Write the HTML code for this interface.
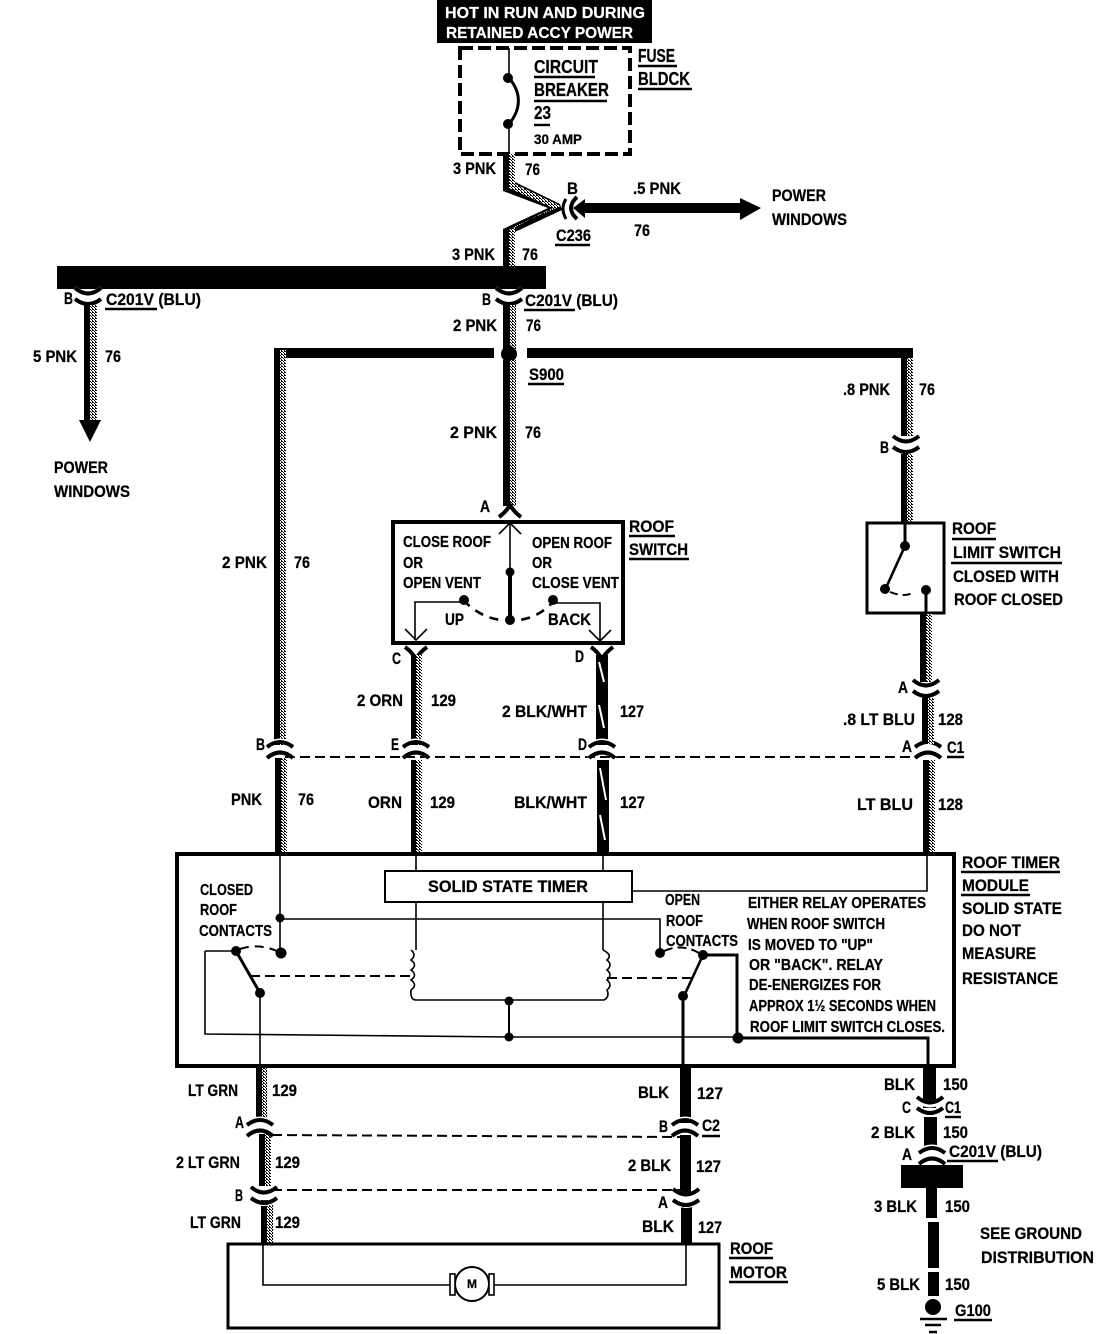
<!DOCTYPE html>
<html><head><meta charset="utf-8"><style>
html,body{margin:0;padding:0;background:#fff}
svg{display:block}
text{font-family:"Liberation Sans",sans-serif;font-weight:bold;font-size:17px;fill:#000;stroke:#000;stroke-width:.25}
.s{font-size:16px}.l{font-size:18px}.w{fill:#fff;stroke:#fff;font-size:16px}
.t{fill:none;stroke:#000;stroke-width:1.6}
.m{fill:none;stroke:#000;stroke-width:3}
.d{fill:none;stroke:#000;stroke-width:2;stroke-dasharray:10 5}
.u{stroke:#000;stroke-width:2.4}
</style></head><body>
<svg width="1120" height="1334" viewBox="0 0 1120 1334" xmlns="http://www.w3.org/2000/svg">
<defs>
<pattern id="st" width="3" height="3" patternUnits="userSpaceOnUse"><rect width="3" height="3" fill="#fff"/><rect width="1" height="1" fill="#000"/><rect x="1" y="1" width="1" height="1" fill="#000"/><rect x="2" y="2" width="1" height="1" fill="#000"/><rect x="2" width="1" height="1" fill="#000"/></pattern>
<g id="fr"><path d="M-14,-4 Q0,-14 14,-4" fill="none" stroke="#fff" stroke-width="5"/><path d="M-14,7 Q0,-5 14,7" fill="none" stroke="#fff" stroke-width="7"/><path d="M-13,-3 Q0,-13 13,-3" fill="none" stroke="#000" stroke-width="4"/><path d="M-13,8 Q0,-3 13,8" fill="none" stroke="#000" stroke-width="4"/></g>
<g id="sm"><path d="M-14,-7 Q0,5 14,-7" fill="none" stroke="#fff" stroke-width="7"/><path d="M-14,3 Q0,14 14,3" fill="none" stroke="#fff" stroke-width="5"/><path d="M-13,-8 Q0,3 13,-8" fill="none" stroke="#000" stroke-width="4"/><path d="M-13,3 Q0,13 13,3" fill="none" stroke="#000" stroke-width="4"/></g>
<path id="y" d="M-11,-6 Q-4,-1 0,6 Q4,-1 11,-6" fill="none" stroke="#000" stroke-width="4"/>
<path id="yu" d="M-11,6 Q-4,1 0,-6 Q4,1 11,6" fill="none" stroke="#000" stroke-width="4"/>
<path id="ch" d="M-11,-11 L0,0 L11,-11" fill="none" stroke="#000" stroke-width="1.6"/>
</defs>
<rect width="1120" height="1334" fill="#fff"/>

<!-- header -->
<rect x="437" y="0" width="215" height="43" fill="#000"/>
<text class="w" x="445" y="18" textLength="200" lengthAdjust="spacingAndGlyphs">HOT IN RUN AND DURING</text>
<text class="w" x="446" y="38" textLength="187" lengthAdjust="spacingAndGlyphs">RETAINED ACCY POWER</text>

<!-- fuse block -->
<rect x="460" y="48" width="170" height="106" fill="none" stroke="#000" stroke-width="4" stroke-dasharray="13 5"/>
<path class="t" d="M509,48V154" stroke-width="2"/>
<rect x="505" y="82" width="8" height="38" fill="#fff"/>
<path class="m" d="M509,78 C521,92 522,108 509,124" stroke-width="2.4"/>
<circle cx="508" cy="78" r="5"/><circle cx="508" cy="124" r="5"/>
<text class="l" x="534" y="73" textLength="64" lengthAdjust="spacingAndGlyphs">CIRCUIT</text><path class="u" d="M534,77H595"/>
<text class="l" x="534" y="96" textLength="75" lengthAdjust="spacingAndGlyphs">BREAKER</text><path class="u" d="M534,101H607"/>
<text class="l" x="534" y="119" textLength="17" lengthAdjust="spacingAndGlyphs">23</text><path class="u" d="M534,125H550"/>
<text x="534" y="144" style="font-size:14px" textLength="48" lengthAdjust="spacingAndGlyphs">30 AMP</text>
<text class="l" x="638" y="62" textLength="37" lengthAdjust="spacingAndGlyphs">FUSE</text><path class="u" d="M638,66H677"/>
<text class="l" x="638" y="85" textLength="52" lengthAdjust="spacingAndGlyphs">BLDCK</text><path class="u" d="M638,89H692"/>

<!-- top wire zigzag -->
<polygon points="503,154 515,154 515,182 560,204 562,210 515,232 515,266 503,266 503,229 548,208 503,191" fill="#000"/>
<polygon points="509,154 515,154 515,184 561,206 515,226 515,266 509,266 509,230 553,208 509,188" fill="url(#st)"/>
<path d="M577,197 Q565,208 577,219" fill="none" stroke="#000" stroke-width="4"/>
<path d="M566,199 Q560,208 566,219" fill="none" stroke="#000" stroke-width="3"/>
<polygon points="573,208 585,199 585,203 740,203 740,198 761,208 740,220 740,213 585,213 585,218" fill="#000"/>
<text x="567" y="194" textLength="11" lengthAdjust="spacingAndGlyphs">B</text>
<text x="633" y="194" textLength="48" lengthAdjust="spacingAndGlyphs">.5 PNK</text>
<text x="634" y="236" textLength="16" lengthAdjust="spacingAndGlyphs">76</text>
<text x="772" y="201" textLength="54" lengthAdjust="spacingAndGlyphs">POWER</text>
<text x="772" y="225" textLength="75" lengthAdjust="spacingAndGlyphs">WINDOWS</text>
<text x="556" y="241" textLength="35" lengthAdjust="spacingAndGlyphs">C236</text><path class="u" d="M555,245H590"/>
<text x="453" y="174" textLength="43" lengthAdjust="spacingAndGlyphs">3 PNK</text>
<text x="525" y="175" textLength="15" lengthAdjust="spacingAndGlyphs">76</text>
<text x="452" y="260" textLength="43" lengthAdjust="spacingAndGlyphs">3 PNK</text>
<text x="522" y="260" textLength="16" lengthAdjust="spacingAndGlyphs">76</text>

<!-- main bar -->
<rect x="57" y="266" width="489" height="23" fill="#000"/>
<use href="#sm" x="88" y="296"/><use href="#sm" x="509" y="296"/>
<text x="64" y="304" textLength="9" lengthAdjust="spacingAndGlyphs">B</text>
<text x="106" y="305" textLength="95" lengthAdjust="spacingAndGlyphs">C201V (BLU)</text><path class="u" d="M105,309H157"/>
<text x="482" y="305" textLength="9" lengthAdjust="spacingAndGlyphs">B</text>
<text x="525" y="306" textLength="93" lengthAdjust="spacingAndGlyphs">C201V (BLU)</text><path class="u" d="M524,310H575"/>

<!-- left power windows -->
<rect x="84" y="305" width="6" height="116" fill="#000"/><rect x="90" y="305" width="7" height="116" fill="url(#st)"/>
<polygon points="79,420 101,420 90,442" fill="#000"/>
<text x="33" y="362" textLength="44" lengthAdjust="spacingAndGlyphs">5 PNK</text>
<text x="105" y="362" textLength="16" lengthAdjust="spacingAndGlyphs">76</text>
<text x="54" y="473" textLength="54" lengthAdjust="spacingAndGlyphs">POWER</text>
<text x="54" y="497" textLength="76" lengthAdjust="spacingAndGlyphs">WINDOWS</text>

<!-- center wire -->
<rect x="503" y="305" width="7" height="45" fill="#000"/><rect x="510" y="305" width="6" height="45" fill="url(#st)"/>
<rect x="274" y="348" width="220" height="10" fill="#000"/>
<rect x="527" y="348" width="386" height="10" fill="#000"/>
<circle cx="509" cy="354" r="8"/>
<rect x="503" y="360" width="7" height="146" fill="#000"/><rect x="510" y="360" width="6" height="146" fill="url(#st)"/>
<text x="453" y="331" textLength="44" lengthAdjust="spacingAndGlyphs">2 PNK</text>
<text x="526" y="331" textLength="15" lengthAdjust="spacingAndGlyphs">76</text>
<text x="529" y="380" textLength="35" lengthAdjust="spacingAndGlyphs">S900</text><path class="u" d="M528,384H564"/>
<text x="450" y="438" textLength="47" lengthAdjust="spacingAndGlyphs">2 PNK</text>
<text x="525" y="438" textLength="16" lengthAdjust="spacingAndGlyphs">76</text>
<text x="480" y="512" textLength="10" lengthAdjust="spacingAndGlyphs">A</text>
<use href="#yu" x="510" y="511"/>

<!-- left long wire -->
<rect x="274" y="350" width="6" height="395" fill="#000"/><rect x="280" y="350" width="6" height="395" fill="url(#st)"/>
<rect x="275" y="758" width="6" height="95" fill="#000"/><rect x="281" y="758" width="6" height="95" fill="url(#st)"/>
<text x="222" y="568" textLength="45" lengthAdjust="spacingAndGlyphs">2 PNK</text>
<text x="294" y="568" textLength="16" lengthAdjust="spacingAndGlyphs">76</text>

<!-- right wire -->
<rect x="901" y="358" width="6" height="78" fill="#000"/><rect x="907" y="358" width="6" height="78" fill="url(#st)"/>
<use href="#sm" x="906" y="444"/>
<rect x="901" y="454" width="6" height="68" fill="#000"/><rect x="907" y="454" width="6" height="68" fill="url(#st)"/>
<text x="843" y="395" textLength="47" lengthAdjust="spacingAndGlyphs">.8 PNK</text>
<text x="919" y="395" textLength="16" lengthAdjust="spacingAndGlyphs">76</text>
<text x="880" y="453" textLength="9" lengthAdjust="spacingAndGlyphs">B</text>

<!-- roof switch -->
<rect x="393" y="522" width="230" height="121" fill="#fff" stroke="#000" stroke-width="4"/>
<path class="t" d="M510,524V572"/><path d="M510,572V620" stroke="#000" stroke-width="4"/>
<use href="#ch" x="510" y="523" transform="rotate(180 510 523)"/>
<circle cx="510" cy="572" r="4.5"/><circle cx="510" cy="620" r="5"/>
<path d="M463,600 Q485,622 510,620 Q535,622 555,600" fill="none" stroke="#000" stroke-width="2.6" stroke-dasharray="9 7"/>
<circle cx="464" cy="600" r="5"/><circle cx="553" cy="600" r="5"/>
<path class="t" d="M463,602H415V640"/><path class="t" d="M555,603H600V640"/>
<use href="#ch" x="416" y="640"/><use href="#ch" x="600" y="641"/>
<text class="s" x="403" y="547" textLength="88" lengthAdjust="spacingAndGlyphs">CLOSE ROOF</text>
<text class="s" x="403" y="568" textLength="20" lengthAdjust="spacingAndGlyphs">OR</text>
<text class="s" x="403" y="588" textLength="78" lengthAdjust="spacingAndGlyphs">OPEN VENT</text>
<text class="s" x="532" y="548" textLength="80" lengthAdjust="spacingAndGlyphs">OPEN ROOF</text>
<text class="s" x="532" y="568" textLength="20" lengthAdjust="spacingAndGlyphs">OR</text>
<text class="s" x="532" y="588" textLength="87" lengthAdjust="spacingAndGlyphs">CLOSE VENT</text>
<text x="445" y="625" textLength="19" lengthAdjust="spacingAndGlyphs">UP</text>
<text x="548" y="625" textLength="43" lengthAdjust="spacingAndGlyphs">BACK</text>
<text x="629" y="532" textLength="45" lengthAdjust="spacingAndGlyphs">ROOF</text><path class="u" d="M629,536H675"/>
<text x="629" y="555" textLength="59" lengthAdjust="spacingAndGlyphs">SWITCH</text><path class="u" d="M629,559H689"/>

<!-- C / D wires -->
<use href="#y" x="416" y="653"/><use href="#y" x="602" y="653"/>
<rect x="411" y="655" width="5" height="90" fill="#000"/><rect x="416" y="655" width="6" height="90" fill="url(#st)"/>
<rect x="596" y="655" width="12" height="90" fill="#000"/>
<path d="M599,662L604,682M599,705L604,728" stroke="#fff" stroke-width="2"/>
<text x="392" y="664" textLength="9" lengthAdjust="spacingAndGlyphs">C</text>
<text x="575" y="662" textLength="9" lengthAdjust="spacingAndGlyphs">D</text>
<text x="357" y="706" textLength="46" lengthAdjust="spacingAndGlyphs">2 ORN</text>
<text x="431" y="706" textLength="25" lengthAdjust="spacingAndGlyphs">129</text>
<text x="502" y="717" textLength="85" lengthAdjust="spacingAndGlyphs">2 BLK/WHT</text>
<text x="620" y="717" textLength="24" lengthAdjust="spacingAndGlyphs">127</text>

<!-- dashed C1 line -->
<path class="d" d="M285,757H918"/>
<use href="#fr" x="280" y="750"/><use href="#fr" x="416" y="750"/><use href="#fr" x="602" y="750"/><use href="#fr" x="928" y="750"/>
<text x="256" y="750" textLength="9" lengthAdjust="spacingAndGlyphs">B</text>
<text x="391" y="750" textLength="8" lengthAdjust="spacingAndGlyphs">E</text>
<text x="578" y="750" textLength="9" lengthAdjust="spacingAndGlyphs">D</text>
<text x="902" y="752" textLength="10" lengthAdjust="spacingAndGlyphs">A</text>
<text x="947" y="753" textLength="17" lengthAdjust="spacingAndGlyphs">C1</text><path class="u" d="M947,757H964"/>

<rect x="411" y="760" width="5" height="93" fill="#000"/><rect x="416" y="760" width="6" height="93" fill="url(#st)"/>
<rect x="597" y="760" width="12" height="93" fill="#000"/>
<path d="M600,768L606,800" stroke="#fff" stroke-width="2"/><path d="M600,815L605,840" stroke="#fff" stroke-width="2"/>
<rect x="923" y="760" width="6" height="93" fill="#000"/><rect x="929" y="760" width="6" height="93" fill="url(#st)"/>
<text x="231" y="805" textLength="31" lengthAdjust="spacingAndGlyphs">PNK</text>
<text x="298" y="805" textLength="16" lengthAdjust="spacingAndGlyphs">76</text>
<text x="368" y="808" textLength="34" lengthAdjust="spacingAndGlyphs">ORN</text>
<text x="430" y="808" textLength="25" lengthAdjust="spacingAndGlyphs">129</text>
<text x="514" y="808" textLength="73" lengthAdjust="spacingAndGlyphs">BLK/WHT</text>
<text x="620" y="808" textLength="25" lengthAdjust="spacingAndGlyphs">127</text>
<text x="857" y="810" textLength="56" lengthAdjust="spacingAndGlyphs">LT BLU</text>
<text x="938" y="810" textLength="25" lengthAdjust="spacingAndGlyphs">128</text>

<!-- limit switch -->
<rect x="867" y="523" width="77" height="90" fill="#fff" stroke="#000" stroke-width="3"/>
<path class="m" d="M905,524V546" stroke-width="2"/>
<path d="M905,546L885,590" stroke="#000" stroke-width="2.6"/>
<circle cx="905" cy="546" r="5"/><circle cx="885" cy="589" r="5"/>
<path d="M890,592 Q905,598 914,592" fill="none" stroke="#000" stroke-width="2" stroke-dasharray="8 5"/>
<circle cx="926" cy="590" r="5"/><path class="m" d="M926,590V613" stroke-width="2.4"/>
<text x="952" y="534" textLength="44" lengthAdjust="spacingAndGlyphs">ROOF</text><path class="u" d="M952,539H996"/>
<text x="953" y="558" textLength="108" lengthAdjust="spacingAndGlyphs">LIMIT SWITCH</text><path class="u" d="M951,563H1062"/>
<text x="953" y="582" textLength="106" lengthAdjust="spacingAndGlyphs">CLOSED WITH</text>
<text x="954" y="605" textLength="109" lengthAdjust="spacingAndGlyphs">ROOF CLOSED</text>
<rect x="920" y="614" width="6" height="68" fill="#000"/><rect x="926" y="614" width="6" height="68" fill="url(#st)"/>
<use href="#sm" x="926" y="688"/>
<rect x="922" y="698" width="6" height="46" fill="#000"/><rect x="928" y="698" width="6" height="46" fill="url(#st)"/>
<text x="898" y="693" textLength="10" lengthAdjust="spacingAndGlyphs">A</text>
<text x="843" y="725" textLength="72" lengthAdjust="spacingAndGlyphs">.8 LT BLU</text>
<text x="938" y="725" textLength="25" lengthAdjust="spacingAndGlyphs">128</text>

<!-- timer module -->
<rect x="177" y="854" width="777" height="212" fill="#fff" stroke="#000" stroke-width="4"/>
<rect x="385" y="871" width="247" height="31" fill="#fff" stroke="#000" stroke-width="2"/>
<text x="428" y="892" textLength="160" lengthAdjust="spacingAndGlyphs">SOLID STATE TIMER</text>
<path class="t" d="M280,855V953"/>
<path class="t" d="M416,855V871M416,902V950"/>
<path class="t" d="M603,855V871M603,902V950"/>
<path class="t" d="M632,891H927V855"/>
<path class="t" d="M281,919H660V953"/>
<circle cx="280" cy="918" r="4.5"/><circle cx="281" cy="953" r="5.5"/>
<path class="t" d="M411,950 q6,5 0,10 q7,5 0,10 q7,5 0,10 q7,5 0,10 q-1,10 5,10 H604 q6,-3 3,-10 q6,-5 0,-10 q6,-5 0,-10 q6,-5 0,-10 q6,-5 -4,-10"/>
<circle cx="509" cy="1001" r="4.5"/><circle cx="509" cy="1037" r="4.5"/>
<path d="M509,1001V1037" stroke="#000" stroke-width="2"/>
<path class="t" d="M205,951V1034L509,1037H738"/>
<path class="m" d="M738,1038H928V1066" stroke-width="2"/>
<circle cx="738" cy="1038" r="5.5"/>
<path class="t" d="M205,951H236"/>
<circle cx="236" cy="951" r="5"/><circle cx="260" cy="993" r="5"/>
<path d="M236,951L260,993" stroke="#000" stroke-width="3"/>
<path class="t" d="M260,993V1066"/>
<path d="M240,949 Q258,943 277,951" fill="none" stroke="#000" stroke-width="2" stroke-dasharray="9 6"/>
<path class="d" d="M250,976H410" stroke-dasharray="11 7"/>
<circle cx="660" cy="953" r="5"/><circle cx="703" cy="955" r="5"/><circle cx="683" cy="996" r="5"/>
<path d="M703,955L684,996" stroke="#000" stroke-width="2.6"/>
<path d="M664,951 Q682,943 699,953" fill="none" stroke="#000" stroke-width="2" stroke-dasharray="9 5"/>
<path class="d" d="M607,978H692" stroke-dasharray="11 7"/>
<path class="m" d="M703,955H737V1038" stroke-width="2"/>
<path class="m" d="M683,996V1066" stroke-width="2"/>
<text class="s" x="200" y="895" textLength="53" lengthAdjust="spacingAndGlyphs">CLOSED</text>
<text class="s" x="200" y="915" textLength="37" lengthAdjust="spacingAndGlyphs">ROOF</text>
<text class="s" x="199" y="936" textLength="73" lengthAdjust="spacingAndGlyphs">CONTACTS</text>
<text class="s" x="665" y="905" textLength="35" lengthAdjust="spacingAndGlyphs">OPEN</text>
<text class="s" x="666" y="926" textLength="37" lengthAdjust="spacingAndGlyphs">ROOF</text>
<text class="s" x="666" y="946" textLength="72" lengthAdjust="spacingAndGlyphs">CONTACTS</text>
<text class="s" x="748" y="908" textLength="178" lengthAdjust="spacingAndGlyphs">EITHER RELAY OPERATES</text>
<text class="s" x="747" y="929" textLength="138" lengthAdjust="spacingAndGlyphs">WHEN ROOF SWITCH</text>
<text class="s" x="748" y="950" textLength="125" lengthAdjust="spacingAndGlyphs">IS MOVED TO "UP"</text>
<text class="s" x="749" y="970" textLength="134" lengthAdjust="spacingAndGlyphs">OR "BACK".  RELAY</text>
<text class="s" x="749" y="990" textLength="132" lengthAdjust="spacingAndGlyphs">DE-ENERGIZES FOR</text>
<text class="s" x="749" y="1011" textLength="187" lengthAdjust="spacingAndGlyphs">APPROX 1½ SECONDS WHEN</text>
<text class="s" x="750" y="1032" textLength="195" lengthAdjust="spacingAndGlyphs">ROOF LIMIT SWITCH CLOSES.</text>
<text x="962" y="868" textLength="98" lengthAdjust="spacingAndGlyphs">ROOF TIMER</text><path class="u" d="M961,872H1060"/>
<text x="962" y="891" textLength="67" lengthAdjust="spacingAndGlyphs">MODULE</text><path class="u" d="M961,895H1030"/>
<text x="962" y="914" textLength="100" lengthAdjust="spacingAndGlyphs">SOLID STATE</text>
<text x="962" y="936" textLength="59" lengthAdjust="spacingAndGlyphs">DO NOT</text>
<text x="962" y="959" textLength="74" lengthAdjust="spacingAndGlyphs">MEASURE</text>
<text x="962" y="984" textLength="96" lengthAdjust="spacingAndGlyphs">RESISTANCE</text>

<!-- bottom left wires -->
<rect x="256" y="1068" width="6" height="50" fill="#000"/><rect x="262" y="1068" width="5" height="50" fill="url(#st)"/>
<rect x="259" y="1134" width="6" height="52" fill="#000"/><rect x="265" y="1134" width="6" height="52" fill="url(#st)"/>
<rect x="261" y="1200" width="6" height="43" fill="#000"/><rect x="267" y="1200" width="6" height="43" fill="url(#st)"/>
<use href="#fr" x="260" y="1128"/>
<use href="#sm" x="264" y="1195"/>
<path class="d" d="M272,1135L680,1137" stroke-dasharray="11 6"/>
<path class="d" d="M272,1190H680" stroke-dasharray="11 6"/>
<text x="188" y="1096" textLength="50" lengthAdjust="spacingAndGlyphs">LT GRN</text>
<text x="272" y="1096" textLength="25" lengthAdjust="spacingAndGlyphs">129</text>
<text x="235" y="1128" textLength="9" lengthAdjust="spacingAndGlyphs">A</text>
<text x="176" y="1168" textLength="64" lengthAdjust="spacingAndGlyphs">2 LT GRN</text>
<text x="275" y="1168" textLength="25" lengthAdjust="spacingAndGlyphs">129</text>
<text x="235" y="1201" textLength="8" lengthAdjust="spacingAndGlyphs">B</text>
<text x="190" y="1228" textLength="51" lengthAdjust="spacingAndGlyphs">LT GRN</text>
<text x="275" y="1228" textLength="25" lengthAdjust="spacingAndGlyphs">129</text>

<!-- bottom center black -->
<rect x="680" y="1068" width="11" height="55" fill="#000"/>
<rect x="680" y="1135" width="11" height="58" fill="#000"/>
<rect x="681" y="1205" width="11" height="38" fill="#000"/>
<use href="#fr" x="685" y="1128"/><use href="#sm" x="686" y="1197"/>
<text x="638" y="1098" textLength="31" lengthAdjust="spacingAndGlyphs">BLK</text>
<text x="697" y="1099" textLength="26" lengthAdjust="spacingAndGlyphs">127</text>
<text x="659" y="1132" textLength="9" lengthAdjust="spacingAndGlyphs">B</text>
<text x="702" y="1131" textLength="18" lengthAdjust="spacingAndGlyphs">C2</text><path class="u" d="M702,1136H720"/>
<text x="628" y="1171" textLength="43" lengthAdjust="spacingAndGlyphs">2 BLK</text>
<text x="696" y="1172" textLength="25" lengthAdjust="spacingAndGlyphs">127</text>
<text x="658" y="1208" textLength="10" lengthAdjust="spacingAndGlyphs">A</text>
<text x="642" y="1232" textLength="32" lengthAdjust="spacingAndGlyphs">BLK</text>
<text x="698" y="1233" textLength="24" lengthAdjust="spacingAndGlyphs">127</text>

<!-- roof motor -->
<rect x="228" y="1244" width="491" height="84" fill="#fff" stroke="#000" stroke-width="3"/>
<path class="t" d="M263,1245V1285H455M489,1285H686V1245"/>
<circle cx="472" cy="1284" r="17" fill="#fff" stroke="#000" stroke-width="2"/>
<rect x="450" y="1274" width="5" height="21" fill="#fff" stroke="#000" stroke-width="1.6"/>
<rect x="489" y="1274" width="5" height="21" fill="#fff" stroke="#000" stroke-width="1.6"/>
<text x="467" y="1288" style="font-size:12px">M</text>
<text x="730" y="1254" textLength="43" lengthAdjust="spacingAndGlyphs">ROOF</text><path class="u" d="M729,1258H773"/>
<text x="730" y="1278" textLength="57" lengthAdjust="spacingAndGlyphs">MOTOR</text><path class="u" d="M729,1282H788"/>

<!-- ground branch -->
<rect x="923" y="1068" width="13" height="40" fill="#000"/>
<rect x="924" y="1117" width="13" height="32" fill="#000"/>
<use href="#sm" x="930" y="1105"/>
<use href="#fr" x="932" y="1156"/>
<rect x="901" y="1165" width="62" height="23" fill="#000"/>
<rect x="926" y="1188" width="11" height="30" fill="#000"/>
<rect x="928" y="1222" width="11" height="46" fill="#000"/>
<rect x="928" y="1272" width="11" height="24" fill="#000"/>
<circle cx="933" cy="1307" r="8"/>
<path d="M920,1319H947M925,1325H941M929,1332H937" stroke="#000" stroke-width="2.6"/>
<text x="884" y="1090" textLength="31" lengthAdjust="spacingAndGlyphs">BLK</text>
<text x="943" y="1090" textLength="25" lengthAdjust="spacingAndGlyphs">150</text>
<text x="902" y="1113" textLength="9" lengthAdjust="spacingAndGlyphs">C</text>
<text x="945" y="1113" textLength="16" lengthAdjust="spacingAndGlyphs">C1</text><path class="u" d="M945,1117H961"/>
<text x="871" y="1138" textLength="44" lengthAdjust="spacingAndGlyphs">2 BLK</text>
<text x="943" y="1138" textLength="25" lengthAdjust="spacingAndGlyphs">150</text>
<text x="902" y="1160" textLength="10" lengthAdjust="spacingAndGlyphs">A</text>
<text x="949" y="1157" textLength="93" lengthAdjust="spacingAndGlyphs">C201V (BLU)</text><path class="u" d="M947,1161H998"/>
<text x="874" y="1212" textLength="43" lengthAdjust="spacingAndGlyphs">3 BLK</text>
<text x="945" y="1212" textLength="25" lengthAdjust="spacingAndGlyphs">150</text>
<text x="980" y="1239" textLength="102" lengthAdjust="spacingAndGlyphs">SEE GROUND</text>
<text x="981" y="1263" textLength="113" lengthAdjust="spacingAndGlyphs">DISTRIBUTION</text>
<text x="877" y="1290" textLength="43" lengthAdjust="spacingAndGlyphs">5 BLK</text>
<text x="945" y="1290" textLength="25" lengthAdjust="spacingAndGlyphs">150</text>
<text x="955" y="1316" textLength="36" lengthAdjust="spacingAndGlyphs">G100</text><path class="u" d="M954,1320H992"/>
</svg>
</body></html>
